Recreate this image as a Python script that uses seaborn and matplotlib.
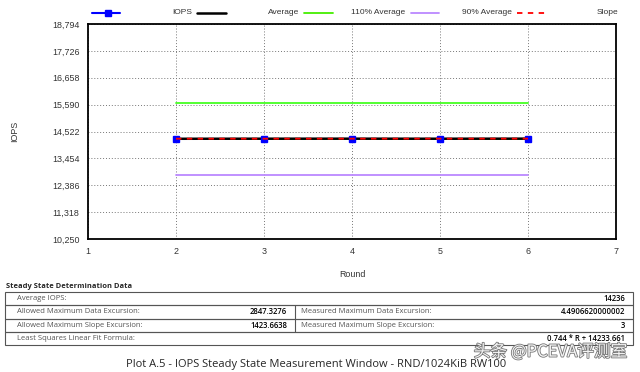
import numpy as np
import pandas as pd
import matplotlib
matplotlib.use("Agg")
import matplotlib.pyplot as plt
import matplotlib.patheffects as pe
import seaborn as sns
from matplotlib.lines import Line2D
from matplotlib.patches import Rectangle
from matplotlib.ticker import FuncFormatter

# data
rounds = [2, 3, 4, 5, 6]
iops = [14233, 14236, 14237, 14235, 14238]
avg_iops = 14236
slope_a = 0.744
slope_b = 14233.661
yticks = [10250, 11318, 12386, 13454, 14522, 15590, 16658, 17726, 18794]
xticks = [1, 2, 3, 4, 5, 6, 7]

table_rows = [
    ("Average IOPS:", "", "", "14236"),
    ("Allowed Maximum Data Excursion:", "2847.3276", "Measured Maximum Data Excursion:", "4.4906620000002"),
    ("Allowed Maximum Slope Excursion:", "1423.6638", "Measured Maximum Slope Excursion:", "3"),
    ("Least Squares Linear Fit Formula:", "", "", "0.744 * R + 14233.661"),
]

df = pd.DataFrame({"Round": rounds, "IOPS": iops})
df["Average"] = avg_iops
df["110% Average"] = avg_iops * 1.1
df["90% Average"] = avg_iops * 0.9
df["Slope"] = [slope_a * r + slope_b for r in rounds]

sns.set_style("white")
plt.rcParams["font.family"] = ["Liberation Sans", "DejaVu Sans"]

W, H = 640, 372
fig = plt.figure(figsize=(6.4, 3.72), dpi=100)
ax = fig.add_axes([88 / W, 1 - 239 / H, (616 - 88) / W, (239 - 24) / H])

sns.lineplot(data=df, x="Round", y="Average", color="#00ee00", lw=1.3, ax=ax)
sns.lineplot(data=df, x="Round", y="110% Average", color="#44ff22", lw=1.3, ax=ax)
sns.lineplot(data=df, x="Round", y="90% Average", color="#bb88ff", lw=1.3, ax=ax)
sns.lineplot(data=df, x="Round", y="IOPS", color="black", lw=1.8, ax=ax, zorder=3)
ax.plot(df["Round"], df["IOPS"], ls="none", marker="s", ms=5, color="#0000ff", zorder=4)
sns.lineplot(data=df, x="Round", y="Slope", color="red", lw=1.3, ls=(0, (3, 3)), ax=ax, zorder=5)

ax.set_xlim(1, 7)
ax.set_ylim(yticks[0], yticks[-1])
ax.set_xticks(xticks)
ax.set_yticks(yticks)
ax.yaxis.set_major_formatter(FuncFormatter(lambda v, p: f"{int(round(v)):,}"))
ax.grid(True, color="#777777", ls=(0, (1, 2)), lw=0.7)
ax.tick_params(length=0, labelsize=6.4, colors="#333333", pad=6)
for s in ax.spines.values():
    s.set_color("black")
    s.set_linewidth(1.3)
ax.set_xlabel("Round", fontsize=6.4, color="#333333", labelpad=10)
ax.set_ylabel("IOPS", fontsize=6.4, color="#333333", labelpad=24)

# legend drawn gnuplot-style on top row
ly = 1 - 13 / H
def sample(x0, x1, **kw):
    fig.add_artist(Line2D([x0 / W, x1 / W], [ly, ly], **kw))
sample(92, 120, color="#0000ff", lw=1.5)
fig.add_artist(Line2D([108 / W], [ly], marker="s", ms=5, color="#0000ff"))
sample(197, 226, color="black", lw=1.8)
sample(304, 333, color="#44ee00", lw=1.3)
sample(411, 439, color="#bb88ff", lw=1.3)
sample(517, 545, color="red", lw=1.3, ls=(0, (3, 3)))
for x, t in [(192, "IOPS"), (299, "Average"), (405, "110% Average"), (512, "90% Average"), (618, "Slope")]:
    fig.text(x / W, ly, t, ha="right", va="center", fontsize=6, color="#333333")

# table
tf = ["Open Sans", "DejaVu Sans"]
fig.text(6 / W, 1 - 287 / H, "Steady State Determination Data", fontsize=5.4, fontweight="bold",
         family=tf, va="center")
top, rh = 292, 13.3
left, right, mid = 5, 633, 295
for i, (l1, v1, l2, v2) in enumerate(table_rows):
    y0 = top + i * rh
    fig.add_artist(Rectangle((left / W, 1 - (y0 + rh) / H), (right - left) / W, rh / H,
                             fill=False, ec="#555555", lw=0.8))
    yc = 1 - (y0 + rh / 2) / H
    fig.text(17 / W, yc, l1, fontsize=5.5, family=tf, color="#555555", va="center")
    if l2:
        fig.add_artist(Line2D([mid / W, mid / W], [1 - y0 / H, 1 - (y0 + rh) / H], color="#555555", lw=0.8))
        fig.text(287 / W, yc, v1, fontsize=5.5, family=tf, color="black", va="center", ha="right",
                 fontweight="semibold")
        fig.text(301 / W, yc, l2, fontsize=5.5, family=tf, color="#555555", va="center")
    fig.text(625 / W, yc, v2, fontsize=5.5, family=tf, color="black", va="center", ha="right",
             fontweight="semibold")

fig.text(316 / W, 1 - 364 / H, "Plot A.5 - IOPS Steady State Measurement Window - RND/1024KiB RW100",
         fontsize=8, family=tf, ha="center", va="center")
fig.text(627 / W, 1 - 352 / H, "头条 @PCEVA评测室", fontsize=12,
         family=["Noto Sans CJK SC", "DejaVu Sans"], ha="right", va="center", color="#f4f4f4",
         path_effects=[pe.withStroke(linewidth=1.2, foreground="#777777")])

fig.savefig("out.png", dpi=100)
